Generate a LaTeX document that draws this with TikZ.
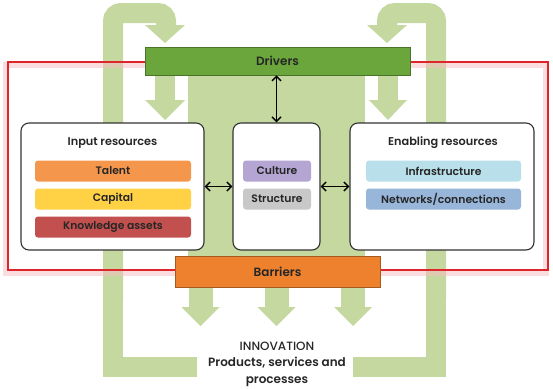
\documentclass[tikz,border=0pt]{standalone}
\usepackage{fontspec}
\setmainfont{Poppins}
\newfontfamily\medfont{Poppins}[UprightFont={* SemiBold}]
\newfontfamily\lightfont{Poppins}[UprightFont={* Medium}]
\usetikzlibrary{arrows.meta}
\definecolor{leaf}{HTML}{C5D8A0}
\definecolor{drvgreen}{HTML}{6AA63C}
\definecolor{barorange}{HTML}{EE812E}
\definecolor{talent}{HTML}{F4964C}
\definecolor{capital}{HTML}{FFD246}
\definecolor{knowledge}{HTML}{C1504E}
\definecolor{culture}{HTML}{B4A5D3}
\definecolor{structure}{HTML}{C8C8C8}
\definecolor{infra}{HTML}{B8DFEA}
\definecolor{networks}{HTML}{98B6DA}
\definecolor{frame}{HTML}{E0242C}

\begin{document}
\begin{tikzpicture}[x=1pt,y=-1pt,
  panel/.style={draw=black!80,line width=1.1pt,fill=white,rounded corners=8pt},
  tag/.style={rounded corners=3pt,minimum height=21pt,inner sep=0pt,text=black!85,
    font=\medfont\fontsize{10.8}{12}\selectfont},
  title/.style={text=black!85,font=\medfont\fontsize{11.3}{13}\selectfont},
  band/.style={draw,line width=0.8pt,inner sep=0pt,text=black!85,
    font=\medfont\fontsize{12}{14}\selectfont},
  link/.style={{Straight Barb[length=4.5pt,width=9pt]}-{Straight Barb[length=4.5pt,width=9pt]},line width=1.4pt},
  flow/.style={draw=leaf,line width=20pt},
  tip/.style={fill=leaf}]
\useasboundingbox (0,0) rectangle (553,388);

% green flows behind everything
\fill[leaf] (188,47) rectangle (365,287);
\foreach \c in {200.5,276.5,353} {
  \fill[leaf] (\c-12,286) rectangle (\c+12,308);
  \fill[tip] (\c-19,307) -- (\c+19,307) -- (\c,326) -- cycle;
}
% feedback loops
\draw[flow,rounded corners=8pt] (113,300) -- (113,13) -- (166,13) -- (166,26);
\draw[flow] (197,367) -- (113,367) -- (113,290);
\fill[tip] (145,25) -- (185,25) -- (165,43) -- cycle;
\draw[flow,rounded corners=8pt] (436,300) -- (436,13) -- (387,13) -- (387,26);
\draw[flow] (353,367) -- (436,367) -- (436,290);
\fill[tip] (367,25) -- (407,25) -- (387,43) -- cycle;
% arrows from drivers down
\draw[flow] (165,75) -- (165,101);
\fill[tip] (145,100) -- (185,100) -- (165,120) -- cycle;
\draw[flow] (388,75) -- (388,101);
\fill[tip] (369,100) -- (407,100) -- (388,120) -- cycle;

% red frame
\draw[frame!30,line width=6pt,opacity=0.5] (6,65) rectangle (546,273);
\draw[frame,line width=2pt] (8,62) rectangle (548,270);

% the three panels
\node[panel,minimum width=183pt,minimum height=127pt] (input) at (112.5,186.5) {};
\node[panel,minimum width=87pt,minimum height=127pt] (core) at (276.5,186.5) {};
\node[panel,minimum width=184pt,minimum height=127pt] (enabling) at (442,186.5) {};

\node[title] (inputtitle) at (112.5,143) {Input resources};
\node[tag,fill=talent,minimum width=156pt] (talent) at (113,171) {Talent};
\node[tag,fill=capital,minimum width=156pt] (capital) at (113,199) {Capital};
\node[tag,fill=knowledge,minimum width=156pt] (knowledge) at (113,227) {Knowledge assets};

\node[tag,fill=culture,minimum width=68pt] (culture) at (277,171) {Culture};
\node[tag,fill=structure,minimum width=68pt] (structure) at (277,199) {Structure};

\node[title] (enablingtitle) at (443,143) {Enabling resources};
\node[tag,fill=infra,minimum width=155pt] (infra) at (443.5,171) {Infrastructure};
\node[tag,fill=networks,minimum width=155pt] (networks) at (443.5,199) {Networks/connections};

% drivers and barriers
\node[band,fill=drvgreen,draw=drvgreen!70!black,minimum width=265pt,minimum height=28pt] (drivers) at (277.5,61) {Drivers};
\node[band,fill=barorange,draw=barorange!70!black,minimum width=205pt,minimum height=31pt] (barriers) at (277.5,271.5) {Barriers};

\draw[link] (drivers.south -| core.north) -- (core.north);
\draw[link] (input.east) -- (core.west);
\draw[link] (core.east) -- (enabling.west);

\node[align=center,text=black!85,font=\fontsize{12}{16.5}\selectfont] (innovation) at (277,364)
  {{\lightfont INNOVATION}\\{\medfont Products, services and}\\{\medfont processes}};
\end{tikzpicture}
\end{document}
